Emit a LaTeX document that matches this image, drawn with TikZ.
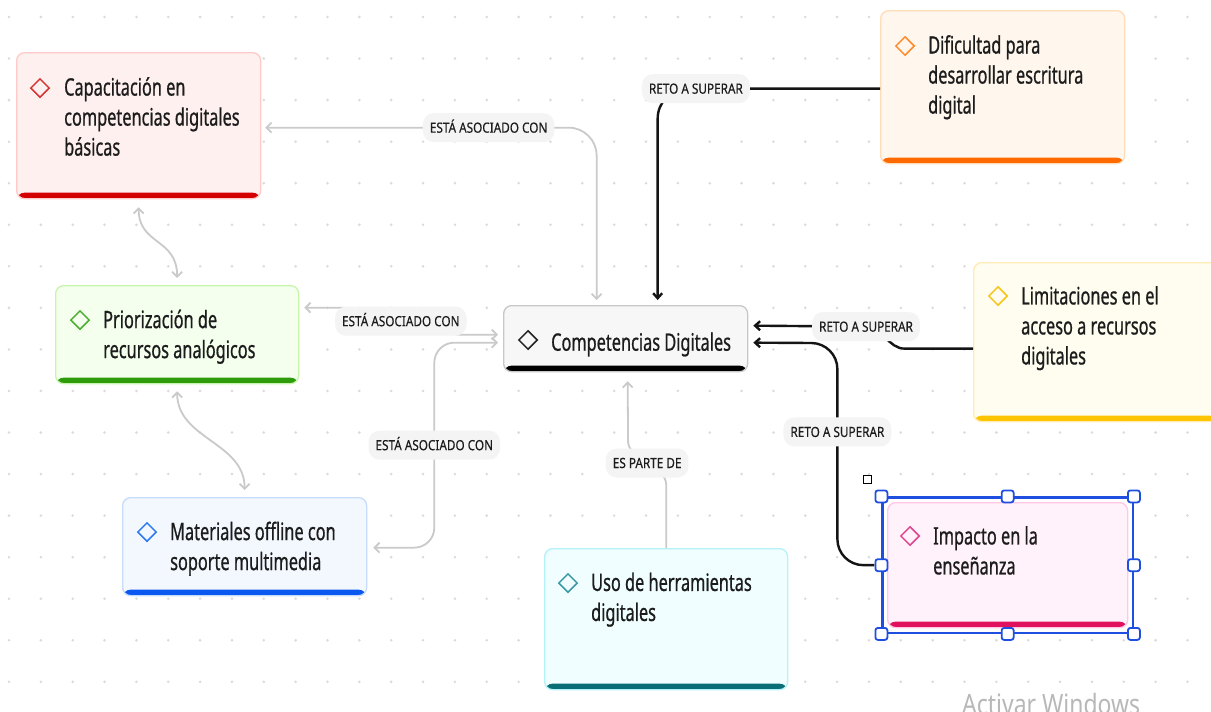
\documentclass[tikz,border=0pt]{standalone}
\usepackage{fontspec}
\usepackage{tikz}
\usetikzlibrary{arrows.meta}
\usetikzlibrary{shapes.geometric}
\usetikzlibrary{fit}

\newfontfamily\boxfont[FakeStretch=0.68,FakeBold=0.7]{Noto Sans}
\newfontfamily\lblfont[FakeStretch=0.84,FakeBold=0.3]{Noto Sans}
\newfontfamily\wmfont[FakeStretch=0.82]{Noto Sans}

\definecolor{capfill}{HTML}{FFF0F0}
\definecolor{capline}{HTML}{FFCACA}
\definecolor{capbar}{HTML}{D40000}
\definecolor{capicon}{HTML}{D43535}
\definecolor{diffill}{HTML}{FFF7EE}
\definecolor{difline}{HTML}{FFDDB8}
\definecolor{difbar}{HTML}{FF6A00}
\definecolor{dificon}{HTML}{FF8A2A}
\definecolor{prifill}{HTML}{F4FFEE}
\definecolor{priline}{HTML}{C8F5AC}
\definecolor{pribar}{HTML}{2E9C0A}
\definecolor{priicon}{HTML}{4CAF2F}
\definecolor{compfill}{HTML}{F7F7F7}
\definecolor{compline}{HTML}{C8C8C8}
\definecolor{compicon}{HTML}{222222}
\definecolor{limfill}{HTML}{FFFCF0}
\definecolor{limline}{HTML}{FFEDB5}
\definecolor{limbar}{HTML}{FFC400}
\definecolor{limicon}{HTML}{F5C518}
\definecolor{matfill}{HTML}{F3F8FF}
\definecolor{matline}{HTML}{C6DCFA}
\definecolor{matbar}{HTML}{0A58F0}
\definecolor{maticon}{HTML}{2E7BEF}
\definecolor{usofill}{HTML}{F0FEFF}
\definecolor{usoline}{HTML}{B4F2FA}
\definecolor{usobar}{HTML}{0A6E77}
\definecolor{usoicon}{HTML}{3A9AA2}
\definecolor{impfill}{HTML}{FFF2FA}
\definecolor{impline}{HTML}{FFC8E6}
\definecolor{impbar}{HTML}{E0115F}
\definecolor{impicon}{HTML}{E0458F}
\definecolor{selblue}{HTML}{1F4FE0}
\definecolor{linegray}{HTML}{CACACA}
\definecolor{dotgray}{HTML}{DADADA}
\definecolor{lblfill}{HTML}{F4F4F4}
\definecolor{txtcol}{HTML}{1C1C1C}

\tikzset{
  topic/.style n args={3}{anchor=north west, fill=#1, draw=#2, line width=1.3pt, rounded corners=8pt, minimum width=244pt, inner sep=0pt,
    path picture={\fill[#3] ([yshift=6pt]path picture bounding box.south west) rectangle (path picture bounding box.south east);}},
  icon/.style={diamond, draw=#1, line width=1.5pt, minimum width=19pt, minimum height=19pt, inner sep=0pt},
  txt/.style={anchor=north west, inner sep=0pt, align=left, text=txtcol, font=\boxfont\fontsize{24}{30}\selectfont, execute at begin node=\strut},
  lbl/.style={fill=lblfill, rounded corners=11pt, text=txtcol, font=\lblfont\fontsize{14}{14}\selectfont, inner xsep=7pt, inner ysep=0pt, minimum height=29pt, text height=10pt, text depth=0pt},
  assoc/.style={draw=linegray, line width=1.8pt, >={Straight Barb[length=5pt,width=10pt]}},
  reto/.style={draw=black!92, line width=2.4pt, ->, >={Straight Barb[length=5pt,width=9pt]}},
  handle/.style={draw=selblue, fill=white, line width=1.8pt, rounded corners=2.5pt, minimum size=12pt, inner sep=0pt},
}

\begin{document}
\begin{tikzpicture}[x=1pt, y=-1pt]
	\useasboundingbox (0,0) rectangle (1211,712);
	\fill[white] (0,0) rectangle (1211,712);
	\foreach \i in {0,...,37}
		\foreach \j in {0,...,16}
			\fill[dotgray] (9+31.85*\i, 17+41.55*\j) circle (1.4pt);

	\node[topic={capfill}{capline}{capbar}, minimum height=146pt] (cap) at (16,52) {};
	\node[icon=capicon] (capI) at ([xshift=24pt,yshift=-36pt]cap.north west) {};
	\node[txt] (capT) at ([xshift=48pt,yshift=-25pt]cap.north west) {Capacitación en\\competencias digitales\\básicas};

	\node[topic={diffill}{difline}{difbar}, minimum height=153pt] (dif) at (880,10) {};
	\node[icon=dificon] (difI) at ([xshift=25pt,yshift=-36pt]dif.north west) {};
	\node[txt] (difT) at ([xshift=48pt,yshift=-25pt]dif.north west) {Dificultad para\\desarrollar escritura\\digital};

	\node[topic={prifill}{priline}{pribar}, minimum width=243pt, minimum height=98pt] (pri) at (55,285) {};
	\node[icon=priicon] (priI) at ([xshift=25pt,yshift=-35pt]pri.north west) {};
	\node[txt] (priT) at ([xshift=48pt,yshift=-24.5pt]pri.north west) {Priorización de\\recursos analógicos};

	\node[topic={compfill}{compline}{black}, minimum height=66pt] (comp) at (503,305) {};
	\node[icon=compicon] (compI) at ([xshift=25pt,yshift=-35pt]comp.north west) {};
	\node[txt] (compT) at ([xshift=48pt,yshift=-24.5pt]comp.north west) {Competencias Digitales};

	\node[topic={limfill}{limline}{limbar}, minimum height=159pt] (lim) at (973,262) {};
	\node[icon=limicon] (limI) at ([xshift=25pt,yshift=-34pt]lim.north west) {};
	\node[txt] (limT) at ([xshift=48pt,yshift=-24pt]lim.north west) {Limitaciones en el\\acceso a recursos\\digitales};

	\node[topic={matfill}{matline}{matbar}, minimum height=98pt] (mat) at (122,497) {};
	\node[icon=maticon] (matI) at ([xshift=25pt,yshift=-35pt]mat.north west) {};
	\node[txt] (matT) at ([xshift=48pt,yshift=-24.5pt]mat.north west) {Materiales offline con\\soporte multimedia};

	\node[topic={usofill}{usoline}{usobar}, minimum width=243pt, minimum height=141pt] (uso) at (544,548) {};
	\node[icon=usoicon] (usoI) at ([xshift=24pt,yshift=-35pt]uso.north west) {};
	\node[txt] (usoT) at ([xshift=47pt,yshift=-24.5pt]uso.north west) {Uso de herramientas\\digitales};

	\node[topic={impfill}{impline}{impbar}, minimum width=240pt, minimum height=125pt] (imp) at (887,502) {};
	\node[icon=impicon] (impI) at ([xshift=23pt,yshift=-34pt]imp.north west) {};
	\node[txt] (impT) at ([xshift=46pt,yshift=-24pt]imp.north west) {Impacto en la\\enseñanza};
	\node[draw=selblue, line width=2.2pt, fit=(imp), inner sep=4.5pt] (sel) {};

	\draw[assoc, <->, rounded corners=28pt] ([xshift=4pt,yshift=-2pt]cap.east) -| node[lbl, pos=0.337] {ESTÁ ASOCIADO CON} ([xshift=-29pt,yshift=5pt]comp.north);
	\draw[assoc, <->, rounded corners=6pt] ([xshift=5pt,yshift=27pt]pri.east) -- ++(43,0) -- node[lbl] {ESTÁ ASOCIADO CON} ++(107,27) -- ([xshift=-5pt,yshift=4pt]comp.west);
	\draw[assoc, <->, rounded corners=20pt] ([xshift=6pt,yshift=-1pt]mat.east) -- ++(61,0) -- node[lbl] {ESTÁ ASOCIADO CON} ++(0,-205) -- ([xshift=-5pt,yshift=-4pt]comp.west);
	\draw[assoc, <->] ([yshift=-8pt]cap.south) .. controls +(0,38) and +(0,-40) .. ([yshift=7pt]pri.north);
	\draw[assoc, <->] ([yshift=-7pt]pri.south) .. controls +(0,48) and +(0,-48) .. ([yshift=7pt]mat.north);
	\draw[assoc, ->, rounded corners=6pt] (uso.north) -- ++(0,-70) -- node[lbl] {ES PARTE DE} ++(-38,-30) -- ([xshift=2pt,yshift=-9pt]comp.south);

	\draw[reto, rounded corners=30pt] ([yshift=-1.5pt]dif.west) -| node[lbl, pos=0.414] {RETO A SUPERAR} ([xshift=32pt,yshift=5pt]comp.north);
	\draw[reto] ([yshift=-6.5pt]lim.west) -- ++(-68,0) to[out=180,in=0] ++(-39,-22) node[lbl] {RETO A SUPERAR} -- ([xshift=5pt,yshift=13pt]comp.east);
	\draw[reto, rounded corners=26pt] ([xshift=-7pt]sel.west) -- ++(-37,0) -- node[lbl, pos=0.6] {RETO A SUPERAR} ++(0,-222) -- ([xshift=5pt,yshift=-4pt]comp.east);

	\foreach \a/\n in {north west/nw, north/n, north east/ne, west/w, east/e, south west/sw, south/s, south east/se}
		\node[handle] (h\n) at (sel.\a) {};
	\node[draw=black, line width=1pt, minimum size=8pt, inner sep=0pt] (selmark) at ([xshift=-14pt,yshift=17pt]sel.north west) {};

	\node[anchor=base west, inner sep=0pt, text=black!28, font=\wmfont\fontsize{28}{28}\selectfont] (wm) at (962,714) {Activar Windows};
\end{tikzpicture}
\end{document}
